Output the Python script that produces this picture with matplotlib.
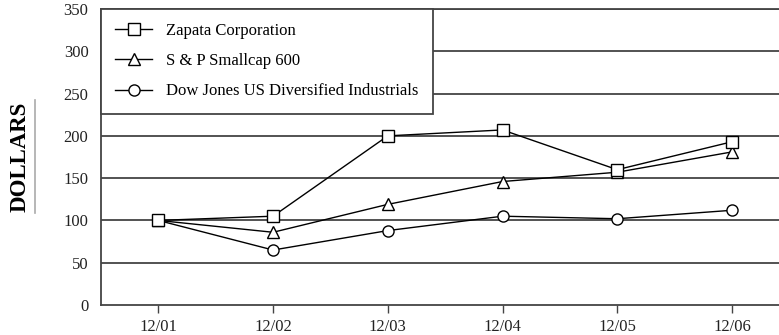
import matplotlib
matplotlib.use("Agg")
import matplotlib.pyplot as plt
from matplotlib.lines import Line2D

periods = ["12/01", "12/02", "12/03", "12/04", "12/05", "12/06"]
zapata = [100, 105, 200, 207, 160, 193]
sp600 = [100, 86, 119, 146, 157, 181]
dowjones = [100, 65, 88, 105, 102, 112]
yticks = [0, 50, 100, 150, 200, 250, 300, 350]

plt.rcParams['font.family'] = ['Liberation Serif', 'DejaVu Serif']

fig = plt.figure(figsize=(7.79, 3.35), dpi=100)
ax = fig.add_axes([101/779, 30/335, 678/779, 296/335])

x = list(range(len(periods)))
for yv in yticks[1:]:
    ax.axhline(yv, color='#444444', lw=1.3, zorder=1)

mk = dict(color='black', lw=1.0, markerfacecolor='white', markeredgecolor='black',
          markersize=8, markeredgewidth=1.0, zorder=3)
ax.plot(x, dowjones, marker='o', label='Dow Jones US Diversified Industrials', **mk)
ax.plot(x, sp600, marker='^', label='S & P Smallcap 600', **mk)
ax.plot(x, zapata, marker='s', label='Zapata Corporation', **mk)

ax.set_xlim(-0.5, 5.41)
ax.set_ylim(0, 350)
ax.set_yticks(yticks)
ax.set_xticks(x)
ax.set_xticklabels(periods)
ax.tick_params(axis='y', labelsize=12, colors='#222222', length=0, pad=9)
ax.tick_params(axis='x', labelsize=12, colors='#222222', length=6, width=1.0,
               direction='out', pad=4)
ax.tick_params(axis='x', color='#444444')
ax.spines['right'].set_visible(False)
for s in ['left', 'bottom', 'top']:
    ax.spines[s].set_color('#444444')
    ax.spines[s].set_linewidth(1.3)

handles, labels = ax.get_legend_handles_labels()
order = [2, 1, 0]
leg = ax.legend([handles[i] for i in order], [labels[i] for i in order],
                loc='upper left', bbox_to_anchor=(0, 1), fontsize=12,
                fancybox=False, framealpha=1, edgecolor='#444444',
                borderaxespad=0, handlelength=2.2, labelspacing=0.85,
                borderpad=0.85, handletextpad=0.85)
leg.get_frame().set_linewidth(1.3)
leg.set_zorder(5)

fig.text(20/779, 1 - 157/335, 'DOLLARS', rotation=90, ha='center', va='center',
         fontsize=16.5, fontweight='bold')
fig.add_artist(Line2D([35/779, 35/779], [1 - 100/335, 1 - 213/335],
                      color='#aaaaaa', lw=1.2, transform=fig.transFigure))

fig.savefig('out.png', dpi=100)
